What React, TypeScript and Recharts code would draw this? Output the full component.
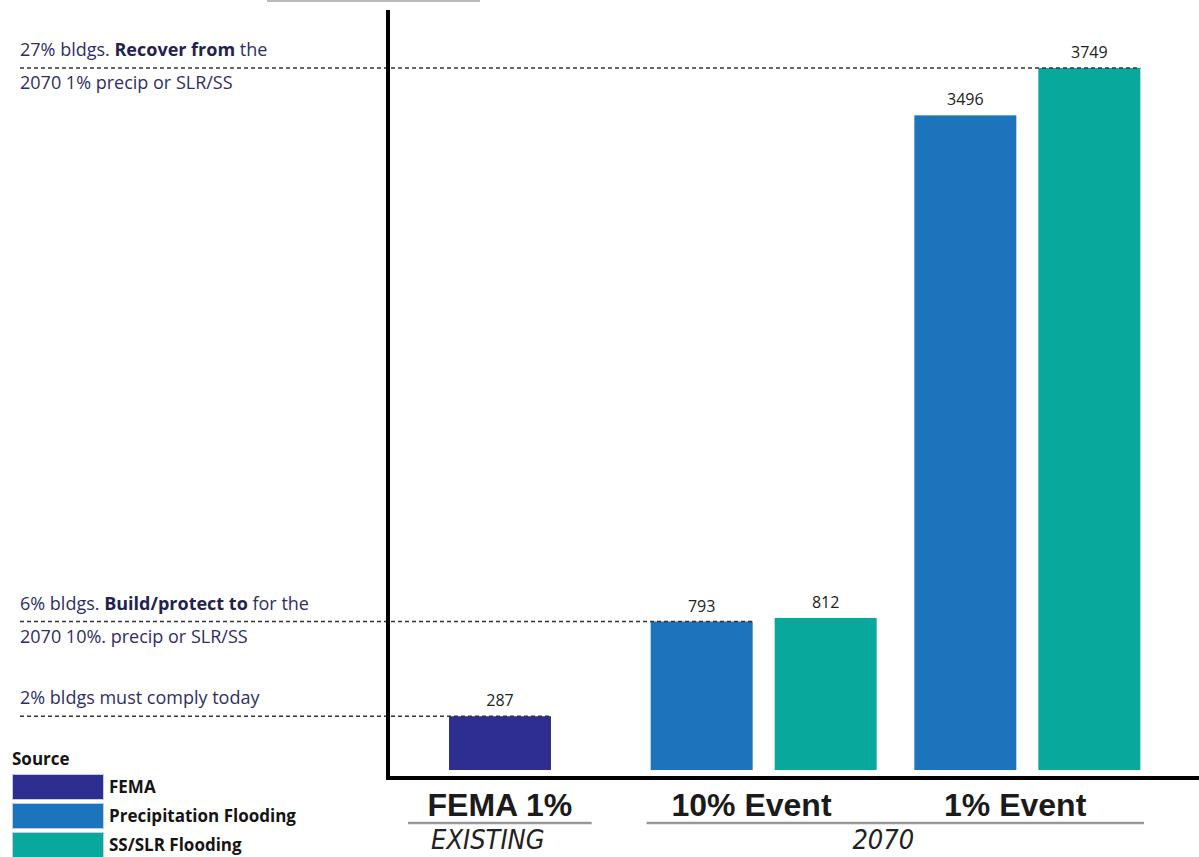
import React from 'react';
import { BarChart, Bar, XAxis, YAxis, Legend, LabelList } from 'recharts';

// categories along the x axis and the group each one sits in
const categories = ['FEMA 1%', '10% Event', '1% Event'];
const groupLabels = ['EXISTING', '2070', '2070'];

// buildings affected per source
const femaValues = [287, null, null];
const precipValues = [null, 793, 3496];
const ssValues = [null, 812, 3749];

// threshold notes drawn at the top of a given bar: [text, bold]
const thresholdNotes = [
  {
    category: '1% Event',
    series: 'ss',
    above: [['27% bldgs. ', false], ['Recover from', true], [' the', false]],
    below: [['2070 1% precip or SLR/SS', false]],
  },
  {
    category: '10% Event',
    series: 'precip',
    above: [['6% bldgs. ', false], ['Build/protect to', true], [' for the', false]],
    below: [['2070 10%. precip or SLR/SS', false]],
  },
  {
    category: 'FEMA 1%',
    series: 'fema',
    above: [['2% bldgs must comply today', false]],
    below: [],
  },
];

const COLORS = { fema: '#2e2d90', precip: '#1c75bc', ss: '#08a89d' };
const NOTE_COLOR = '#2f2e66';
const BODY_FONT = "'Open Sans', Lato, sans-serif";

const data = categories.map((category, i) => ({
  category,
  group: groupLabels[i],
  fema: femaValues[i],
  precip: precipValues[i],
  ss: ssValues[i],
}));

const renderSegments = (segs: any[]) =>
  segs.map(([t, b]: any, i: number) => (
    <tspan key={i} fontWeight={b ? 700 : 400} fill={b ? '#23224f' : NOTE_COLOR}>
      {t}
    </tspan>
  ));

const makeShape = (series: string) => (props: any) => {
  const { x, y, width, height, fill, payload } = props;
  if (height == null || isNaN(height)) return <g />;
  const note = thresholdNotes.find((n) => n.series === series && n.category === payload?.category);
  return (
    <g>
      <rect x={x} y={y} width={width} height={height} fill={fill} />
      {note && (
        <g fontFamily={BODY_FONT} fontSize={18}>
          <line x1={20} x2={x + width} y1={y} y2={y} stroke="#333" strokeWidth={1.5} strokeDasharray="4 3" />
          <text x={20} y={y - 12}>{renderSegments(note.above)}</text>
          {note.below.length > 0 && <text x={20} y={y + 21}>{renderSegments(note.below)}</text>}
        </g>
      )}
    </g>
  );
};

const CategoryTick = (props: any) => {
  const { x, y, payload, index } = props;
  const off = payload?.offset || 0;
  const isStart = index === 0 || groupLabels[index] !== groupLabels[index - 1];
  let span = 1;
  while (isStart && groupLabels[index + span] === groupLabels[index]) span++;
  const inset = span === 1 ? 40 : 15;
  return (
    <g>
      <text
        x={x}
        dx={index === 0 ? 0 : -12}
        y={y + 30}
        textAnchor="middle"
        fontFamily="'Liberation Sans', Arial, sans-serif"
        fontWeight={700}
        fontSize={32}
        fill="#1b1b1b"
      >
        {payload.value}
      </text>
      {isStart && (
        <g>
          <line x1={x - off + inset} x2={x + (2 * span - 1) * off - inset} y1={y + 37} y2={y + 37} stroke="#999" strokeWidth={2.5} />
          <text
            x={x + (span - 1) * off - 12}
            y={y + 63}
            textAnchor="middle"
            fontFamily="'Liberation Sans Narrow', 'DejaVu Sans Condensed', sans-serif"
            fontStyle="italic"
            fontSize={27}
            fill="#222"
          >
            {groupLabels[index]}
          </text>
        </g>
      )}
    </g>
  );
};

const SourceLegend = (props: any) => {
  const items = props.payload || [];
  return (
    <div style={{ fontFamily: BODY_FONT, color: '#151515' }}>
      <div style={{ fontWeight: 700, fontSize: 17, lineHeight: '22px', marginBottom: 2 }}>Source</div>
      {items.map((e: any) => (
        <div key={e.value} style={{ display: 'flex', alignItems: 'center', height: 29 }}>
          <span
            style={{
              width: 90,
              height: 24,
              background: e.color,
              border: '1px solid #c4cce4',
              marginRight: 5,
              display: 'inline-block',
            }}
          />
          <span style={{ fontWeight: 700, fontSize: 17 }}>{e.value}</span>
        </div>
      ))}
    </div>
  );
};

const App = () => {
  const axisPadding = { left: -20, right: 40 };
  return (
    <div style={{ position: 'absolute', left: 0, top: 0, width: 1199, height: 857, background: '#fff' }}>
      <div style={{ position: 'absolute', left: 267, top: 0, width: 213, height: 2, background: '#bbb' }} />
      <BarChart width={1199} height={857} data={data} margin={{ top: 12, right: 0, left: 387, bottom: 0 }} barSize={102} barGap={22}>
        <XAxis
          xAxisId="main"
          dataKey="category"
          height={79}
          interval={0}
          padding={axisPadding}
          axisLine={{ stroke: '#000', strokeWidth: 4, strokeLinecap: 'square' }}
          tickLine={false}
          tick={<CategoryTick />}
        />
        <XAxis xAxisId="fema" dataKey="category" hide height={0} padding={axisPadding} />
        <YAxis
          width={1}
          domain={[-42.7, 4048]}
          tick={false}
          tickLine={false}
          axisLine={{ stroke: '#000', strokeWidth: 4, strokeLinecap: 'square' }}
        />
        <Legend
          verticalAlign="middle"
          align="center"
          content={<SourceLegend />}
          wrapperStyle={{ left: 12, top: 748, width: 320, height: 110 }}
        />
        <Bar xAxisId="fema" dataKey="fema" name="FEMA" fill={COLORS.fema} shape={makeShape('fema')} isAnimationActive={false}>
          <LabelList dataKey="fema" position="top" offset={10} fill="#222" fontSize={16} fontFamily={BODY_FONT} />
        </Bar>
        <Bar xAxisId="main" dataKey="precip" name="Precipitation Flooding" fill={COLORS.precip} shape={makeShape('precip')} isAnimationActive={false}>
          <LabelList dataKey="precip" position="top" offset={10} fill="#222" fontSize={16} fontFamily={BODY_FONT} />
        </Bar>
        <Bar xAxisId="main" dataKey="ss" name="SS/SLR Flooding" fill={COLORS.ss} shape={makeShape('ss')} isAnimationActive={false}>
          <LabelList dataKey="ss" position="top" offset={10} fill="#222" fontSize={16} fontFamily={BODY_FONT} />
        </Bar>
      </BarChart>
    </div>
  );
};

export default App;
